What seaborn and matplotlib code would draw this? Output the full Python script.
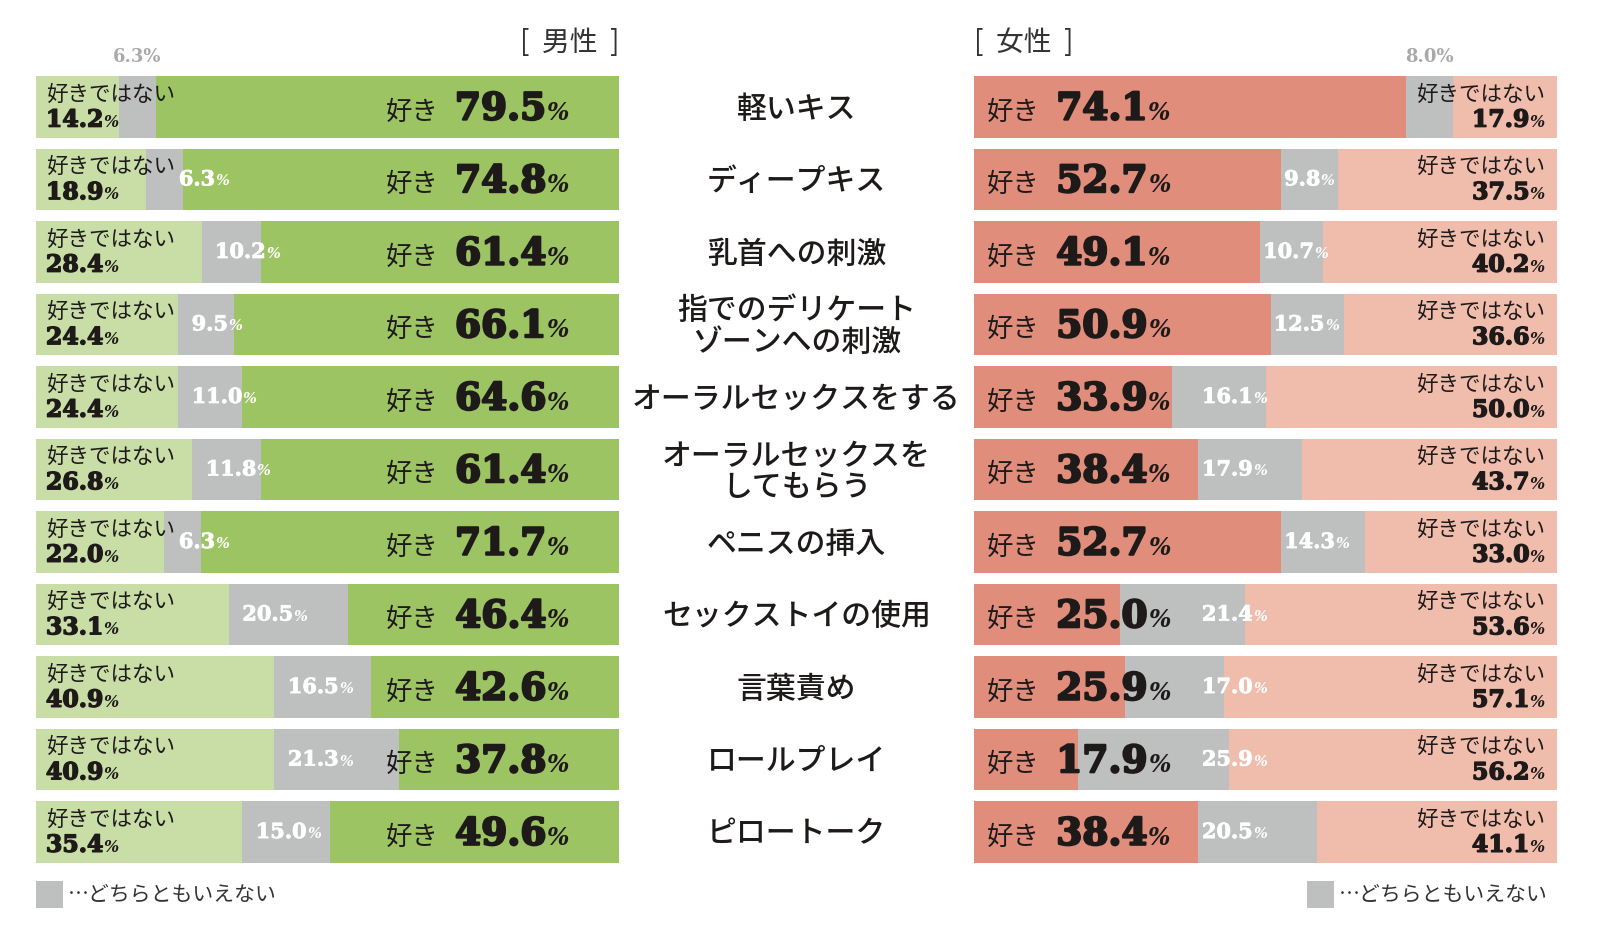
import matplotlib
matplotlib.use("Agg")
import matplotlib.pyplot as plt
import matplotlib.transforms as mtransforms
import matplotlib.patheffects as pe
from matplotlib.offsetbox import TextArea, HPacker, VPacker, AnnotationBbox
from matplotlib.patches import Rectangle
import seaborn as sns
import pandas as pd

# ---------------- data ----------------
categories = ["軽いキス", "ディープキス", "乳首への刺激", "指でのデリケート\nゾーンへの刺激",
              "オーラルセックスをする", "オーラルセックスを\nしてもらう", "ペニスの挿入",
              "セックストイの使用", "言葉責め", "ロールプレイ", "ピロートーク"]
men_dislike = [14.2, 18.9, 28.4, 24.4, 24.4, 26.8, 22.0, 33.1, 40.9, 40.9, 35.4]
men_neutral = [6.3, 6.3, 10.2, 9.5, 11.0, 11.8, 6.3, 20.5, 16.5, 21.3, 15.0]
men_like = [79.5, 74.8, 61.4, 66.1, 64.6, 61.4, 71.7, 46.4, 42.6, 37.8, 49.6]
women_like = [74.1, 52.7, 49.1, 50.9, 33.9, 38.4, 52.7, 25.0, 25.9, 17.9, 38.4]
women_neutral = [8.0, 9.8, 10.7, 12.5, 16.1, 17.9, 14.3, 21.4, 17.0, 25.9, 20.5]
women_dislike = [17.9, 37.5, 40.2, 36.6, 50.0, 43.7, 33.0, 53.6, 57.1, 56.2, 41.1]
label_like = "好き"
label_dislike = "好きではない"
label_neutral = "…どちらともいえない"
title_men = "[  男性  ]"
title_women = "[  女性  ]"

# ---------------- style ----------------
sns.set_theme(style="white")
CJK = ["Noto Sans CJK JP", "DejaVu Sans"]
plt.rcParams["font.family"] = CJK
NUM = "DejaVu Serif"

C_MEN_LIKE = "#9dc462"
C_MEN_DIS = "#c8dea6"
C_GRAY = "#bebfbf"
C_W_LIKE = "#e08e7b"
C_W_DIS = "#f0bdad"
TXT = "#1e1a1a"

W, H = 1600, 943
fig = plt.figure(figsize=(16, 9.43), dpi=100)
fig.patch.set_facecolor("white")

ax_b, ax_h = 0.0792, 0.8459
axL = fig.add_axes([36 / W, ax_b, 583 / W, ax_h])
axR = fig.add_axes([974 / W, ax_b, 583 / W, ax_h])

df = pd.DataFrame({
    "cat": categories,
    "md": men_dislike, "mn": men_neutral, "ml": men_like,
    "wl": women_like, "wn": women_neutral, "wd": women_dislike,
})
df["m1"] = df["md"]
df["m2"] = df["md"] + df["mn"]
df["m3"] = df["md"] + df["mn"] + df["ml"]
df["w1"] = df["wl"]
df["w2"] = df["wl"] + df["wn"]
df["w3"] = df["wl"] + df["wn"] + df["wd"]

BW = 0.85
for col, c in [("m3", C_MEN_LIKE), ("m2", C_GRAY), ("m1", C_MEN_DIS)]:
    sns.barplot(data=df, x=col, y="cat", orient="h", color=c, saturation=1,
                width=BW, ax=axL, errorbar=None)
for col, c in [("w3", C_W_DIS), ("w2", C_GRAY), ("w1", C_W_LIKE)]:
    sns.barplot(data=df, x=col, y="cat", orient="h", color=c, saturation=1,
                width=BW, ax=axR, errorbar=None)

for ax in (axL, axR):
    ax.set_xlim(0, 100)
    ax.set_ylim(len(categories) - 0.5, -0.5)
    ax.axis("off")
    for p in ax.patches:
        p.set_edgecolor("none")
        p.set_linewidth(0)


def num_box(value, size, pct_size, color=TXT, stroke=1.0):
    eff = [pe.withStroke(linewidth=stroke, foreground=color)] if stroke > 0 else []
    kids = [
        TextArea(f"{value:.1f}", textprops=dict(family=NUM, weight="bold", size=size,
                                                color=color, path_effects=eff)),
        TextArea("%", textprops=dict(family=NUM, weight="bold", style="italic",
                                     size=pct_size, color=color)),
    ]
    return HPacker(children=kids, align="baseline", pad=0, sep=0)


def like_box(value):
    pre = TextArea(label_like, textprops=dict(family=CJK, size=19, color=TXT))
    return HPacker(children=[pre, num_box(value, 27, 17, stroke=1.6)],
                   align="baseline", pad=0, sep=12)


def dis_box(value, align):
    return VPacker(children=[
        TextArea(label_dislike, textprops=dict(family=CJK, size=15.5, color=TXT)),
        num_box(value, 17, 11.5, stroke=1.0)], align=align, pad=0, sep=1.5)


def place(ax, box, x, y, align):
    ab = AnnotationBbox(box, (x, y), xycoords="data", box_alignment=align,
                        frameon=False, pad=0, annotation_clip=False)
    ax.add_artist(ab)


n = len(categories)
for i in range(n):
    # ---- men ----
    place(axL, like_box(men_like[i]), 91.4, i + 0.03, (1, 0.5))
    place(axL, dis_box(men_dislike[i], "left"), 1.7, i + 0.01, (0, 0.5))
    g0 = men_dislike[i]
    if i == 0:
        axL.annotate(f"{men_neutral[i]:.1f}%", xy=(g0 + men_neutral[i] / 2, -BW / 2),
                     xytext=(0, 14), textcoords="offset points", ha="center", va="center",
                     family=NUM, weight="bold", size=13, color="#a9a9a9",
                     annotation_clip=False)
    else:
        place(axL, num_box(men_neutral[i], 15, 10.5, color="white", stroke=0.6),
              max(g0 + 2.3, 24.5), i, (0, 0.5))

    # ---- women ----
    place(axR, like_box(women_like[i]), 2.2, i + 0.03, (0, 0.5))
    place(axR, dis_box(women_dislike[i], "right"), 97.9, i + 0.01, (1, 0.5))
    g0 = women_like[i]
    if i == 0:
        axR.annotate(f"{women_neutral[i]:.1f}%", xy=(g0 + women_neutral[i] / 2, -BW / 2),
                     xytext=(0, 14), textcoords="offset points", ha="center", va="center",
                     family=NUM, weight="bold", size=13, color="#a9a9a9",
                     annotation_clip=False)
    else:
        place(axR, num_box(women_neutral[i], 15, 10.5, color="white", stroke=0.6),
              max(g0 + 0.5, 39.1), i, (0, 0.5))

# ---- category labels in the middle ----
trans = mtransforms.blended_transform_factory(fig.transFigure, axL.transData)
for i, cat in enumerate(categories):
    fig.text(796.5 / W, i + 0.03, cat, transform=trans, ha="center", va="center",
             size=21.5, color=TXT, family=CJK, weight="medium", linespacing=1.05)

# ---- headers ----
fig.text(619 / W, 1 - 43 / H, title_men, ha="right", va="center", size=20,
         color="#333333", family=CJK)
fig.text(974 / W, 1 - 43 / H, title_women, ha="left", va="center", size=20,
         color="#333333", family=CJK)

# ---- legends ----
for sx, tx in [(36, 68), (1307, 1339)]:
    fig.patches.append(Rectangle((sx / W, 1 - 908 / H), 27 / W, 27 / H,
                                 transform=fig.transFigure, facecolor=C_GRAY,
                                 edgecolor="none"))
    fig.text(tx / W, 1 - 895 / H, label_neutral, ha="left", va="center", size=15,
             color="#333333", family=CJK)

fig.savefig("out.png", dpi=100, facecolor="white")
